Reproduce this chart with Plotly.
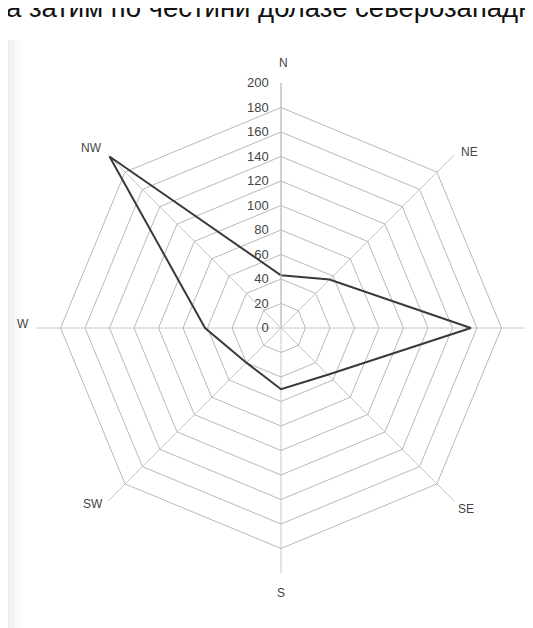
import plotly.graph_objects as go

directions = ["N", "NE", "E", "SE", "S", "SW", "W", "NW"]
values = [43, 56, 155, 54, 50, 40, 62, 198]
radial_ticks = [0, 20, 40, 60, 80, 100, 120, 140, 160, 180, 200]
top_text = "а затим по честини долазе северозападни"

# page-pixel positions of the direction labels (layout only)
label_pos = {"N": (283, 63), "NE": (469, 152), "E": (535, 330), "SE": (466, 509),
             "S": (281, 593), "SW": (93, 504), "W": (23, 324), "NW": (91, 148)}

OFF = 8  # default body margin of the html page
W, H = 533, 628
L, R, T, B = 28, 15, 75, 63
pw = W - L - R
ph = H - T - B


def px(x):
    return (x - OFF - L) / pw


def py(y):
    return (H - B - (y - OFF)) / ph


fig = go.Figure()
fig.add_trace(go.Scatterpolar(
    r=values + values[:1],
    theta=directions + directions[:1],
    mode="lines",
    line=dict(color="#3a3a3a", width=2),
    showlegend=False,
    hoverinfo="skip",
))

# scanned page gray edge on the left
shapes = []
strip = [(0, 5, 0.09), (5, 10, 0.065), (10, 15, 0.045), (15, 20, 0.025), (20, 24, 0.01)]
for x0, x1, op in strip:
    shapes.append(dict(type="rect", xref="paper", yref="paper",
                       x0=px(x0), x1=px(x1), y0=py(H + 20), y1=py(40),
                       fillcolor="black", opacity=op, line=dict(width=0), layer="below"))

annotations = [dict(
    text=top_text, xref="paper", yref="paper",
    x=px(4), xanchor="left",
    y=py(25), yanchor="bottom",
    showarrow=False,
    font=dict(size=27.5, color="#111111", family="Liberation Sans, Arial, sans-serif"),
)]
for d in directions:
    x, y = label_pos[d]
    annotations.append(dict(
        text=d, xref="paper", yref="paper", x=px(x), y=py(y),
        xanchor="center", yanchor="middle", showarrow=False,
        font=dict(size=12, color="#444444"),
    ))

nb = "\u00a0\u00a0"
fig.update_layout(
    width=W, height=H,
    margin=dict(l=L, r=R, t=T, b=B),
    paper_bgcolor="white",
    plot_bgcolor="white",
    font=dict(family="Liberation Sans, Arial, sans-serif", color="#333333"),
    shapes=shapes,
    polar=dict(
        bgcolor="white",
        gridshape="linear",
        domain=dict(x=[0, 1], y=[0, 1]),
        angularaxis=dict(
            categoryarray=directions,
            categoryorder="array",
            direction="clockwise",
            rotation=90,
            showline=False,
            showticklabels=False,
            gridcolor="#c8c8c8",
            gridwidth=1,
            ticks="",
        ),
        radialaxis=dict(
            range=[0, 200],
            tickvals=radial_ticks,
            ticktext=[str(v) + nb for v in radial_ticks],
            angle=90,
            tickangle=90,
            side="counterclockwise",
            showline=True,
            linecolor="#c0c0c0",
            linewidth=1,
            gridcolor="#b8b8b8",
            gridwidth=1,
            ticks="",
            tickfont=dict(size=13, color="#444444"),
        ),
    ),
    annotations=annotations,
)

fig.write_html("out.html")
